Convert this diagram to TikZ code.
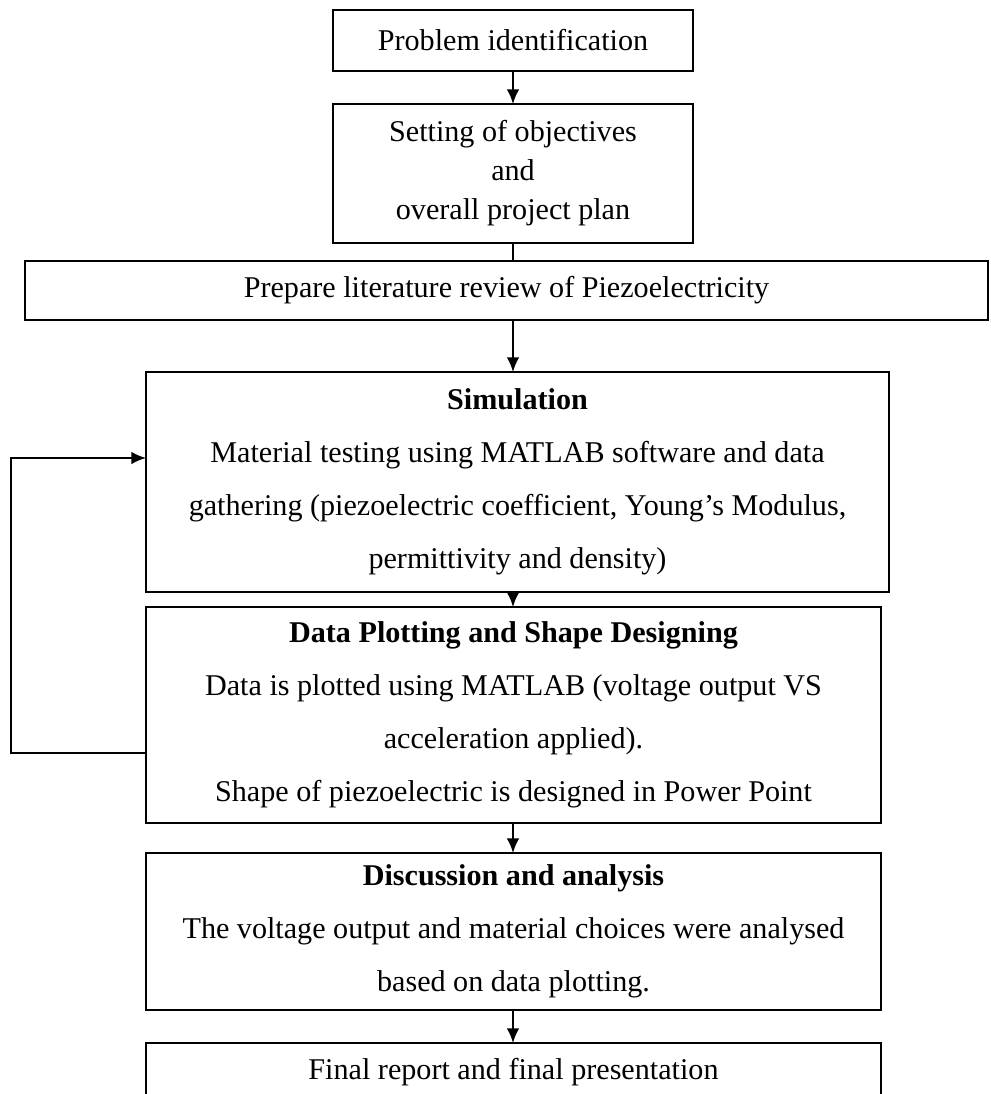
\documentclass[tikz,border=0pt]{standalone}
\usepackage{fontspec}
\setmainfont{Liberation Serif}
\usetikzlibrary{arrows.meta}

\begin{document}
\begin{tikzpicture}[x=0.75pt,y=-0.75pt,
  box/.style={draw=black, line width=1.7pt, inner sep=0pt, outer sep=0pt,
    align=center, font=\fontsize{22.6}{39.75}\selectfont},
  arr/.style={draw=black, line width=1.5pt, -{Latex[length=11pt,width=9.5pt]}},
  link/.style={draw=black, line width=1.5pt}]

  % page area
  \useasboundingbox (0,0) rectangle (990,1094);
  \fill[white] (0,0) rectangle (990,1094);
  \clip (0,0) rectangle (990,1094);

  % process boxes, top to bottom
  \node[box, minimum width=270pt, minimum height=45.75pt] (b1) at (513,40.5)
    {Problem identification};
  \node[box, minimum width=270pt, minimum height=104.25pt,
        font=\fontsize{22.6}{29.25}\selectfont] (b2) at (513,173.5)
    {Setting of objectives\\and\\overall project plan};
  \node[box, minimum width=722.25pt, minimum height=44.25pt] (b3) at (506.5,290.5)
    {Prepare literature review of Piezoelectricity};
  \node[box, minimum width=557.25pt, minimum height=165pt] (sim) at (517.5,482)
    {\textbf{Simulation}\\
     Material testing using MATLAB software and data\\
     gathering (piezoelectric coefficient, Young’s Modulus,\\
     permittivity and density)};
  \node[box, minimum width=551.25pt, minimum height=162pt] (data) at (513.5,715)
    {\textbf{Data Plotting and Shape Designing}\\
     Data is plotted using MATLAB (voltage output VS\\
     acceleration applied).\\
     Shape of piezoelectric is designed in Power Point};
  \node[box, minimum width=551.25pt, minimum height=117.75pt] (disc) at (513.5,931.5)
    {\textbf{Discussion and analysis}\\
     The voltage output and material choices were analysed\\
     based on data plotting.};
  \node[box, minimum width=551.25pt, minimum height=43.5pt] (final) at (513.5,1072)
    {Final report and final presentation};

  % connectors
  \draw[arr]  (b1.south) -- (b2.north);
  \draw[link] (b2.south) -- (b3.north -| b2.south);
  \draw[arr]  (b3.south -| b1.south) -- (sim.north -| b1.south);
  \draw[arr]  (sim.south -| b1.south) -- (data.north -| b1.south);
  \draw[arr]  (data.south -| b1.south) -- (disc.north -| b1.south);
  \draw[arr]  (disc.south -| b1.south) -- (final.north -| b1.south);

  % feedback loop from plotting back to simulation
  \draw[arr] ([yshift=-28.5pt]data.west) -- ++(-135,0) |- ([yshift=18pt]sim.west);
\end{tikzpicture}
\end{document}
